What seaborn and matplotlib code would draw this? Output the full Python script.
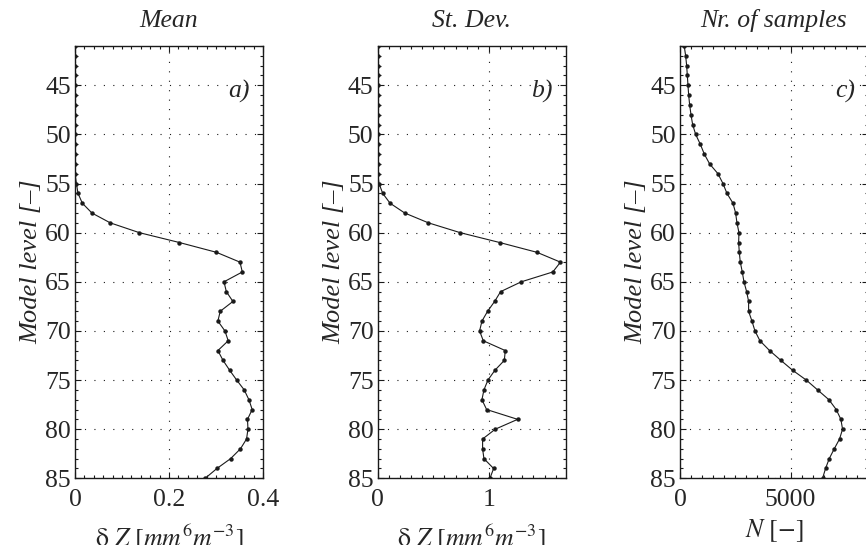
import numpy as np
import pandas as pd
import seaborn as sns
import matplotlib
matplotlib.use("Agg")
import matplotlib.pyplot as plt
from matplotlib.ticker import MultipleLocator

levels = list(range(41, 86))

mean_dz = [0.0] * 14 + [
    0.003, 0.0064, 0.0156, 0.036, 0.075, 0.137, 0.222, 0.301, 0.351, 0.356,
    0.317, 0.322, 0.336, 0.309, 0.304, 0.319, 0.326, 0.304, 0.315, 0.329,
    0.344, 0.360, 0.370, 0.377, 0.367, 0.368, 0.365, 0.352, 0.331, 0.302,
    0.277]

std_dz = [0.0] * 14 + [
    0.012, 0.045, 0.111, 0.243, 0.456, 0.742, 1.096, 1.432, 1.643, 1.574,
    1.291, 1.105, 1.051, 0.988, 0.937, 0.916, 0.949, 1.147, 1.138, 1.054,
    0.991, 0.955, 0.937, 0.979, 1.258, 1.057, 0.943, 0.943, 0.955, 1.042,
    1.009]

n_samples = [
    190, 256, 301, 331, 361, 392, 437, 497, 572, 708, 919, 1099, 1340, 1717,
    1943, 2123, 2395, 2515, 2575, 2666, 2651, 2681, 2726, 2816, 2892, 3012,
    3102, 3102, 3253, 3389, 3614, 4051, 4563, 5090, 5708, 6220, 6732, 7063,
    7274, 7349, 7214, 6973, 6747, 6581, 6446]

titles = ["Mean", "St. Dev.", "Nr. of samples"]
panel_tags = ["a)", "b)", "c)"]
xlabels = [r"$\mathrm{\delta}\ Z\ [mm^{6}m^{-3}]$",
           r"$\mathrm{\delta}\ Z\ [mm^{6}m^{-3}]$", r"$N\ [-]$"]
ylabel = "Model level [\u2013]"
xticks = [[0, 0.2, 0.4], [0, 1], [0, 5000]]
xticklabels = [["0", "0.2", "0.4"], ["0", "1"], ["0", "5000"]]
xlims = [(0, 0.4), (0, 1.69), (0, 8500)]
xminor = [0.02, 0.1, 500]
yticks = [45, 50, 55, 60, 65, 70, 75, 80, 85]

sns.set_theme(style="ticks")
plt.rcParams["font.family"] = ["Liberation Serif", "DejaVu Serif"]
plt.rcParams["mathtext.fontset"] = "stix"
plt.rcParams["xtick.direction"] = "in"
plt.rcParams["ytick.direction"] = "in"

fig = plt.figure(figsize=(8.66, 5.45), dpi=100)
lefts = [75 / 866, 377.7 / 866, 680 / 866]
bottom = 1 - 478.3 / 545
height = (478.3 - 46) / 545
width = 188 / 866
labelpads = [8, 8, 4]

series = [mean_dz, std_dz, n_samples]
fs = 18.5
for i in range(3):
    ax = fig.add_axes([lefts[i], bottom, width, height])
    df = pd.DataFrame({"x": series[i], "level": levels})
    sns.lineplot(data=df, x="x", y="level", orient="y", estimator=None,
                 ax=ax, color="k", lw=0.8, marker="o", markersize=3.2,
                 markeredgecolor="k", markerfacecolor="k", markeredgewidth=0)
    ax.set_xticks(xticks[i])
    ax.set_xticklabels(xticklabels[i], fontsize=fs)
    ax.set_yticks(yticks)
    ax.set_yticklabels([str(t) for t in yticks], fontsize=fs)
    ax.set_xlim(*xlims[i])
    ax.set_ylim(85, 41)
    ax.xaxis.set_minor_locator(MultipleLocator(xminor[i]))
    ax.yaxis.set_minor_locator(MultipleLocator(1))
    ax.tick_params(which="both", top=True, right=True, direction="in",
                   color="k", width=0.8)
    ax.tick_params(which="major", length=4)
    ax.tick_params(which="minor", length=2.5)
    ax.tick_params(axis="x", which="major", pad=8)
    ax.tick_params(axis="y", which="major", pad=3)
    ax.grid(True, which="major", color="k", linestyle=(0, (1, 7.5)), lw=0.8)
    for s in ax.spines.values():
        s.set_color("k")
        s.set_linewidth(1.0)
    ax.set_title(titles[i], fontsize=fs, style="italic", pad=14)
    ax.set_xlabel(xlabels[i], fontsize=fs, labelpad=labelpads[i])
    ax.set_ylabel(ylabel, fontsize=19, style="italic", labelpad=2)
    ax.text(0.93, 0.894, panel_tags[i], transform=ax.transAxes, ha="right",
            va="center", fontsize=fs, style="italic")

fig.savefig("out.png", dpi=100)
